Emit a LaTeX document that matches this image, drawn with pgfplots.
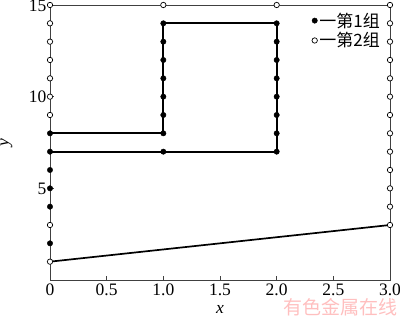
\documentclass[border=0pt]{standalone}
\usepackage{pgfplots}
\pgfplotsset{compat=1.18}
\usepackage{fontspec}
\setmainfont{Liberation Serif}
\newfontfamily\cjk{Noto Sans CJK SC}
\begin{document}
\begin{tikzpicture}
\begin{axis}[name=ax,
  scale only axis, width=340pt, height=275pt,
  xmin=0, xmax=3, ymin=0, ymax=15,
  axis line style={black!75, line width=0.9pt},
  xtick={0,0.5,1,1.5,2,2.5,3},
  xticklabels={0,0.5,1.0,1.5,2.0,2.5,3.0},
  ytick={5,10,15},
  tick pos=left, tick align=inside, major tick length=4pt,
  tick style={black!75, line width=0.7pt},
  /pgf/number format/assume math mode=true,
  tick label style={font=\fontsize{17.5}{17.5}\selectfont},
  yticklabel style={yshift=-0.5pt},
  xlabel={\textit{x}}, ylabel={\textit{y}},
  label style={font=\fontsize{17.5}{17.5}\selectfont},
  xlabel style={at={(axis description cs:0.5,-0.08)}, anchor=north},
  ylabel style={at={(axis description cs:-0.1,0.5)}, anchor=south},
  clip=false,
  legend style={draw=none, fill=none, at={(0.77,0.98)}, anchor=north west,
    font=\fontsize{17}{17}\selectfont\cjk, row sep=0pt, inner sep=0pt,
    /tikz/every even column/.append style={column sep=0pt}},
  legend cell align=left,
  legend image code/.code={\draw[#1] plot coordinates {(0.08cm,0cm)};},
]
\addplot[black, line width=1.7pt, forget plot] coordinates {(0,8)(1,8)(1,14)(2,14)(2,7)(0,7)};
\addplot[black, line width=1.7pt, forget plot] coordinates {(0,1)(3,3)};
\addplot[only marks, mark=*, mark size=2.7pt, black] coordinates {
(0,2)(0,4)(0,5)(0,6)(0,7)(0,8)
(1,7)(1,8)(1,9)(1,10)(1,11)(1,12)(1,13)(1,14)
(2,7)(2,8)(2,9)(2,10)(2,11)(2,12)(2,13)(2,14)};
\addlegendentry{一第1组}
\addplot[only marks, mark=*, mark size=2.7pt, black, mark options={fill=white, line width=0.7pt}] coordinates {
(0,1)(0,3)(0,9)(0,10)(0,11)(0,12)(0,13)(0,14)(0,15)
(1,15)(2,15)
(3,3)(3,4)(3,5)(3,6)(3,7)(3,8)(3,9)(3,10)(3,11)(3,12)(3,13)(3,14)(3,15)};
\addlegendentry{一第2组}
\node[text=red!25, font=\fontsize{19}{19}\selectfont\cjk, anchor=west] at (axis cs:2.03,-1.5) {有色金属在线};
\end{axis}
\pgfresetboundingbox
\path[use as bounding box] ([xshift=-50pt,yshift=-37pt]ax.south west) rectangle ([xshift=10pt,yshift=5pt]ax.north east);
\end{tikzpicture}
\end{document}
